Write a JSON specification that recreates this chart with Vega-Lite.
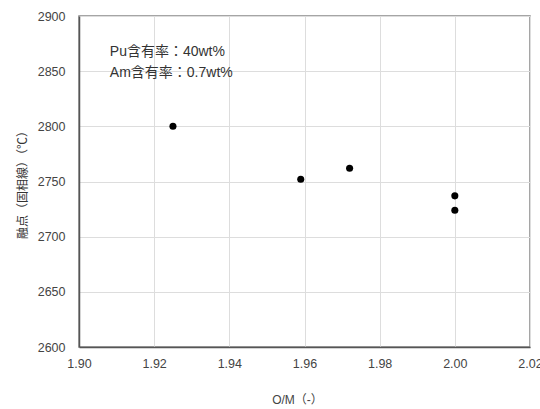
{
  "$schema": "https://vega.github.io/schema/vega-lite/v6.json",
  "width": 451,
  "height": 331,
  "autosize": "none",
  "padding": {"left": 79, "top": 16, "right": 10, "bottom": 62},
  "background": "white",
  "config": {
    "view": {"stroke": "#888888", "strokeWidth": 1.5},
    "font": "Liberation Sans, Noto Sans CJK JP"
  },
  "layer": [
    {
      "data": {"values": [
        {"om": 1.925, "mp": 2800},
        {"om": 1.959, "mp": 2752},
        {"om": 1.972, "mp": 2762},
        {"om": 2.0, "mp": 2737},
        {"om": 2.0, "mp": 2724}
      ]},
      "mark": {"type": "point", "filled": true, "color": "black", "opacity": 1, "size": 50},
      "encoding": {
        "x": {"field": "om", "type": "quantitative", "scale": {"domain": [1.9, 2.02], "nice": false, "zero": false},
          "axis": {"title": "O/M（-）", "values": [1.9, 1.92, 1.94, 1.96, 1.98, 2.0, 2.02], "format": ".2f",
            "grid": true, "gridColor": "#dddddd", "domainColor": "#555555", "domainWidth": 1.5, "ticks": false,
            "labelFontSize": 12.5, "labelColor": "#444444", "labelPadding": 10, "labelFlush": false,
            "titleFontSize": 12, "titleFontWeight": "normal", "titleColor": "#444444", "titlePadding": 25, "titleX": 218, "titleFont": "Liberation Sans, Noto Sans CJK JP"}},
        "y": {"field": "mp", "type": "quantitative", "scale": {"domain": [2600, 2900], "nice": false, "zero": false},
          "axis": {"title": "融点（固相線）（℃）", "values": [2600, 2650, 2700, 2750, 2800, 2850, 2900], "format": "d",
            "grid": true, "gridColor": "#dddddd", "domainColor": "#555555", "domainWidth": 1.5, "ticks": false,
            "labelFontSize": 12.5, "labelColor": "#444444", "labelPadding": 14, "labelFlush": false,
            "titleFontSize": 12, "titleFontWeight": "normal", "titleColor": "#333333", "titlePadding": 8, "titleFont": "Noto Sans CJK JP"}}
      }
    },
    {
      "data": {"values": [
        {"om": 1.9082, "mp": 2867, "label": "Pu含有率：40wt%"},
        {"om": 1.9082, "mp": 2848, "label": "Am含有率：0.7wt%"}
      ]},
      "mark": {"type": "text", "align": "left", "baseline": "middle", "fontSize": 14, "color": "#333333", "font": "Liberation Sans, Noto Sans CJK JP"},
      "encoding": {
        "x": {"field": "om", "type": "quantitative"},
        "y": {"field": "mp", "type": "quantitative"},
        "text": {"field": "label"}
      }
    }
  ]
}
